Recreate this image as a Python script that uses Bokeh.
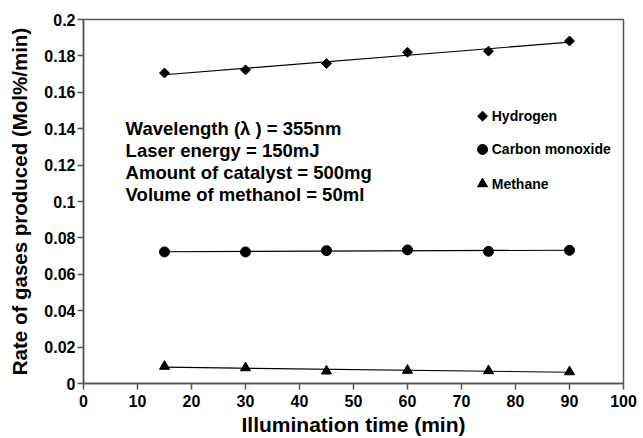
import numpy as np
from bokeh.plotting import figure
from bokeh.models import FixedTicker, Label, Range1d
from bokeh.core.properties import value
from bokeh.embed import file_html
from bokeh.resources import INLINE

# Illumination time (min)
time_min = [15, 30, 45, 60, 75, 90]

# Rate of gas production (Mol%/min)
hydrogen = [0.1706, 0.1723, 0.1758, 0.1820, 0.1826, 0.1882]
carbon_monoxide = [0.0723, 0.0723, 0.0730, 0.0734, 0.0726, 0.0732]
methane = [0.0094, 0.0086, 0.0068, 0.0072, 0.0070, 0.0064]

series_names = ["Hydrogen", "Carbon monoxide", "Methane"]

x_ticks = [0, 10, 20, 30, 40, 50, 60, 70, 80, 90, 100]
y_ticks = [0, 0.02, 0.04, 0.06, 0.08, 0.1, 0.12, 0.14, 0.16, 0.18, 0.2]
y_tick_labels = ["0", "0.02", "0.04", "0.06", "0.08", "0.1", "0.12", "0.14", "0.16", "0.18", "0.2"]

conditions = [
    "Wavelength (\u03bb ) = 355nm",
    "Laser energy = 150mJ",
    "Amount of catalyst = 500mg",
    "Volume of methanol = 50ml",
]

FONT = "Liberation Sans"
AXIS_COLOR = "#555555"

p = figure(width=643, height=438, output_backend="svg", toolbar_location=None,
           x_range=Range1d(0, 100), y_range=Range1d(0, 0.2),
           min_border_left=83, min_border_right=20, min_border_top=19, min_border_bottom=55)
p.background_fill_color = "white"
p.border_fill_color = "white"
p.grid.visible = False
p.outline_line_color = AXIS_COLOR
p.outline_line_width = 1.5

for ax in (p.xaxis[0], p.yaxis[0]):
    ax.axis_line_color = AXIS_COLOR
    ax.axis_line_width = 1.5
    ax.major_tick_line_color = AXIS_COLOR
    ax.major_tick_line_width = 1.5
    ax.major_tick_out = 6
    ax.major_tick_in = 0
    ax.minor_tick_line_color = None
    ax.major_label_text_font = FONT
    ax.major_label_text_font_style = "bold"
    ax.major_label_text_font_size = "16px"
    ax.major_label_text_color = "black"
    ax.axis_label_text_font = FONT
    ax.axis_label_text_font_style = "bold"
    ax.axis_label_text_color = "black"

p.xaxis.ticker = FixedTicker(ticks=x_ticks)
p.yaxis.ticker = FixedTicker(ticks=y_ticks)
p.yaxis.major_label_overrides = {t: lbl for t, lbl in zip(y_ticks, y_tick_labels)}
p.xaxis.major_label_standoff = 5
p.yaxis.major_label_standoff = 2
p.xaxis.axis_label = "Illumination time (min)"
p.yaxis.axis_label = "Rate of gases produced (Mol%/min)"
p.xaxis.axis_label_text_font_size = "21px"
p.yaxis.axis_label_text_font_size = "20.5px"
p.xaxis.axis_label_standoff = 3
p.yaxis.axis_label_standoff = 10

# Data points with linear trend lines
t = np.array(time_min, dtype=float)
markers = [("square", 7, np.pi / 4), ("circle", 10, 0), ("triangle", 10, 0)]
for vals, (marker, size, ang) in zip([hydrogen, carbon_monoxide, methane], markers):
    k, b = np.polyfit(t, np.array(vals), 1)
    fx = [t.min(), t.max()]
    p.line(fx, [k * x + b for x in fx], line_color="black", line_width=1.2)
    p.scatter(time_min, vals, marker=marker, size=size, angle=ang,
              fill_color="black", line_color="black")

# Key (marker + name for each series)
key_x, key_text_x = 73.9, 75.6
key_rows = [0.1469, 0.1286, 0.1097]
for name, y, (marker, size, ang) in zip(series_names, key_rows, markers):
    p.scatter([key_x], [y], marker=marker, size=size, angle=ang,
              fill_color="black", line_color="black")
    p.text([key_text_x], [y], text=[name], text_font=value(FONT),
           text_font_style="bold", text_font_size="14px", text_color="black",
           text_baseline="middle", text_align="left")

# Experimental conditions
for i, txt in enumerate(conditions):
    p.add_layout(Label(x=7.8, y=0.1402 - i * 0.0121, text=txt,
                       text_font=FONT, text_font_style="bold",
                       text_font_size="18.5px", text_color="black",
                       text_baseline="alphabetic"))

open("out.html", "w").write(file_html(p, INLINE))
